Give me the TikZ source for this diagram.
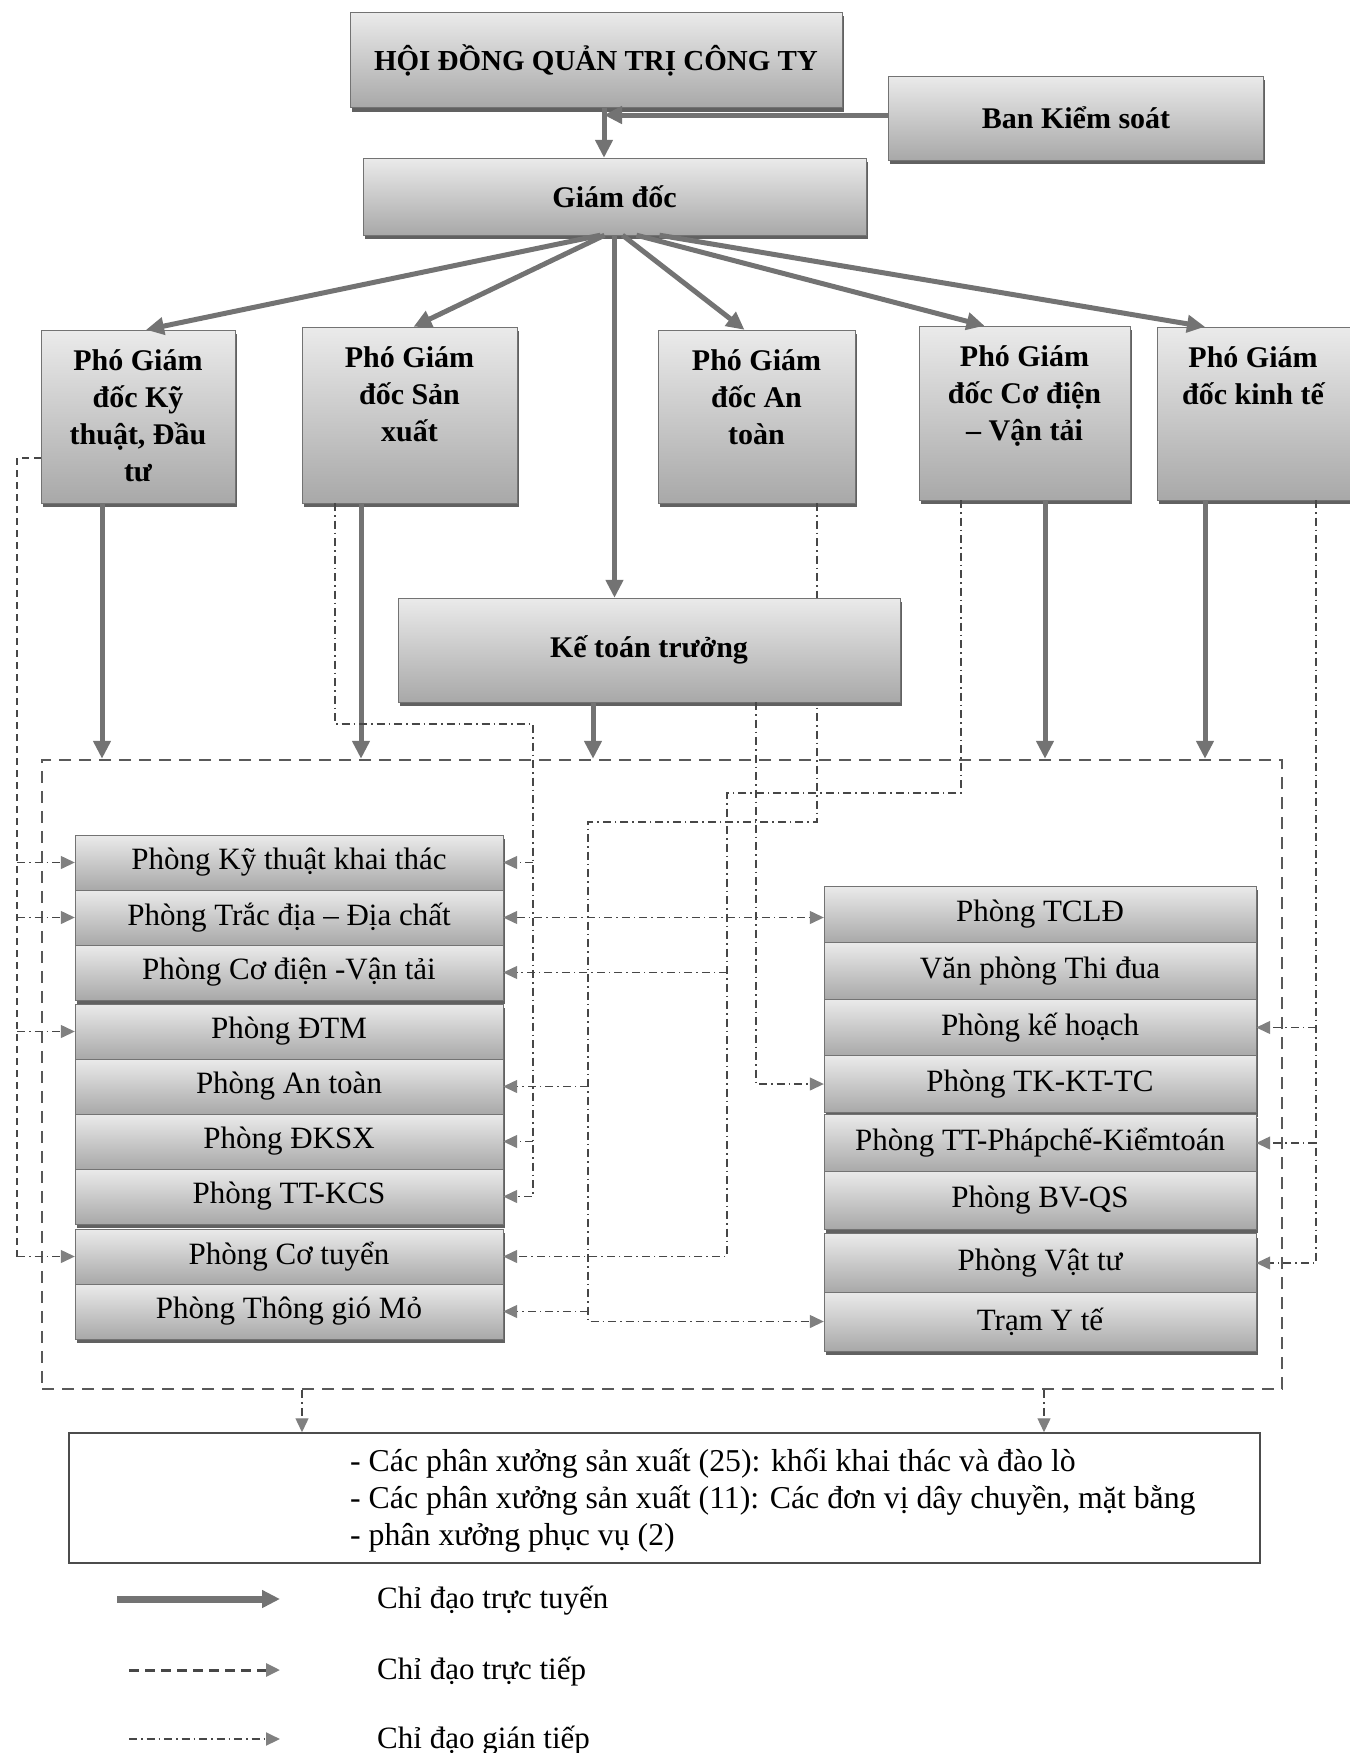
\documentclass[tikz,border=0pt]{standalone}
\usepackage{fontspec}
\setmainfont{Liberation Serif}
\usepackage{tikz}
\usetikzlibrary{calc,arrows.meta,shadows}
\colorlet{col_main}{black!55}
\colorlet{col_line}{black!72}
\colorlet{col_tip}{black!50}
\colorlet{col_box_top}{black!8}
\colorlet{col_box_bottom}{black!34}
\colorlet{col_box_edge}{black!55}
\newcommand{\headfont}{\fontsize{30}{37}\selectfont\bfseries}
\newcommand{\roomfont}{\fontsize{31}{37}\selectfont}
\tikzset{
    box_base/.style={draw=col_box_edge,thin,top color=col_box_top,bottom color=col_box_bottom,inner sep=0pt,
        drop shadow={shadow xshift=1.5pt,shadow yshift=-4pt,fill=black!62,opacity=1}},
    box_head/.style={box_base,font=\headfont,align=center},
    box_room/.style={box_base,font=\roomfont},
    head_text/.style={anchor=north,font=\headfont,align=center,inner sep=0pt},
    legend_text/.style={anchor=west,font=\roomfont,inner sep=0pt},
    group_box/.style={draw=black!65,line width=2.5pt,dash pattern=on 12pt off 8pt,inner sep=0pt},
    line_main/.style={draw=col_main,line width=5pt,-{Triangle[length=18pt,width=17pt]}},
    line_direct/.style={draw=col_line,line width=1.3pt,dash pattern=on 7pt off 5pt},
    line_indirect/.style={draw=col_line,line width=1.3pt,dash pattern=on 8pt off 4pt on 1.5pt off 4pt},
    tip_small/.style={-{Triangle[length=14pt,width=13pt,color=col_tip]}},
    tip_both/.style={{Triangle[length=14pt,width=13pt,color=col_tip]}-{Triangle[length=14pt,width=13pt,color=col_tip]}},
}

\begin{document}
\begin{tikzpicture}[x=1pt,y=-1pt]
  \useasboundingbox (0,0) rectangle (1349,1753);
  % Top boxes
  \node[box_head,minimum width=492pt,minimum height=95pt,font=\fontsize{29}{36}\selectfont\bfseries] (hdqt) at (596,60) {HỘI ĐỒNG QUẢN TRỊ CÔNG TY};
  \node[box_head,minimum width=375pt,minimum height=84pt] (bks) at (1076,118) {Ban Kiểm soát};
  \node[box_head,minimum width=503pt,minimum height=77pt] (gd) at (614.5,196.5) {Giám đốc};
  % Deputy directors
  \node[box_head,minimum width=194pt,minimum height=173pt] (pgd_kt) at (138,416.5) {};
  \node[box_head,minimum width=215pt,minimum height=176pt] (pgd_sx) at (409.5,415) {};
  \node[box_head,minimum width=197pt,minimum height=173pt] (pgd_at) at (756.5,416.5) {};
  \node[box_head,minimum width=211pt,minimum height=174pt] (pgd_cd) at (1024.5,413) {};
  \node[box_head,minimum width=200pt,minimum height=173pt] (pgd_ke) at (1257,413.5) {};
  \node[head_text] (pgd_kt_t) at ($(pgd_kt.north)+(0,20)$) {Phó Giám\\đốc Kỹ\\thuật, Đầu\\tư};
  \node[head_text] (pgd_sx_t) at ($(pgd_sx.north)+(0,20)$) {Phó Giám\\đốc Sản\\xuất};
  \node[head_text] (pgd_at_t) at ($(pgd_at.north)+(0,20)$) {Phó Giám\\đốc An\\toàn};
  \node[head_text] (pgd_cd_t) at ($(pgd_cd.north)+(0,20)$) {Phó Giám\\đốc Cơ điện\\– Vận tải};
  \node[head_text] (pgd_ke_t) at ($(pgd_ke.north)+(-4,20)$) {Phó Giám\\đốc kinh tế};
  % Rooms, left column
  \node[box_room,minimum width=428pt,minimum height=55pt] (p_ktkt) at (289,862.5) {Phòng Kỹ thuật khai thác};
  \node[box_room,minimum width=428pt,minimum height=55pt] (p_tddc) at (289,917.5) {Phòng Trắc địa – Địa chất};
  \node[box_room,minimum width=428pt,minimum height=55pt] (p_cdvt) at (289,972.5) {Phòng Cơ điện -Vận tải};
  \node[box_room,minimum width=428pt,minimum height=55pt] (p_dtm) at (289,1031.5) {Phòng ĐTM};
  \node[box_room,minimum width=428pt,minimum height=55pt] (p_at) at (289,1086.5) {Phòng An toàn};
  \node[box_room,minimum width=428pt,minimum height=55pt] (p_dksx) at (289,1141.5) {Phòng ĐKSX};
  \node[box_room,minimum width=428pt,minimum height=55pt] (p_ttkcs) at (289,1196.5) {Phòng TT-KCS};
  \node[box_room,minimum width=428pt,minimum height=55pt] (p_ct) at (289,1256.5) {Phòng Cơ tuyển};
  \node[box_room,minimum width=428pt,minimum height=55pt] (p_tgm) at (289,1311.5) {Phòng Thông gió Mỏ};
  % Rooms, right column
  \node[box_room,minimum width=432pt,minimum height=57pt] (p_tcld) at (1040,914.5) {Phòng TCLĐ};
  \node[box_room,minimum width=432pt,minimum height=57pt] (p_vptd) at (1040,971) {Văn phòng Thi đua};
  \node[box_room,minimum width=432pt,minimum height=57pt] (p_kh) at (1040,1027.5) {Phòng kế hoạch};
  \node[box_room,minimum width=432pt,minimum height=57pt] (p_tkkttc) at (1040,1084) {Phòng TK-KT-TC};
  \node[box_room,minimum width=432pt,minimum height=58pt] (p_ttpc) at (1040,1143) {Phòng TT-Phápchế-Kiểmtoán};
  \node[box_room,minimum width=432pt,minimum height=58pt] (p_bvqs) at (1040,1200) {Phòng BV-QS};
  \node[box_room,minimum width=432pt,minimum height=59pt] (p_vt) at (1040,1263) {Phòng Vật tư};
  \node[box_room,minimum width=432pt,minimum height=59pt] (p_yte) at (1040,1321.5) {Trạm Y tế};
  % Group frame and workshops
  \node[group_box,minimum width=1240pt,minimum height=629pt] (grp) at (662,1074.5) {};
  \node[draw=black!70,line width=1.5pt,minimum width=1191pt,minimum height=130pt,inner sep=0pt] (pxuong) at (664.5,1498) {};
  \node[anchor=west,align=left,font=\fontsize{31.8}{37}\selectfont,inner sep=0pt] (pxuong_t) at (350,1500) {- Các phân xưởng sản xuất (25): khối khai thác và đào lò\\- Các phân xưởng sản xuất (11): Các đơn vị dây chuyền, mặt bằng\\- phân xưởng phục vụ (2)};
  % Indirect line from PGD An toan (runs behind Ke toan truong)
  \coordinate (at_out) at ($(pgd_at.south)+(60.5,0)$);
  \coordinate (at_bus) at (588,822);
  \draw[line_indirect,tip_small] (at_out) |- (at_bus) |- (p_yte.west);
  \draw[line_indirect,tip_small] (at_bus |- p_at.east) -- (p_at.east);
  \draw[line_indirect,tip_small] (at_bus |- p_tgm.east) -- (p_tgm.east);
  \node[box_head,minimum width=502pt,minimum height=104pt] (ktt) at (649,650) {Kế toán trưởng};
  % Main lines
  \draw[line_main] ($(hdqt.south)+(8,0)$) coordinate (hd_gd) -- (hd_gd |- gd.north);
  \draw[line_main] (bks.west |- 0,115) -- (hd_gd |- 0,115);
  \draw[line_main] ($(gd.south)+(-14,0)$) -- ($(pgd_kt.north)+(8,0)$);
  \draw[line_main] ($(gd.south)+(-10,0)$) -- ($(pgd_sx.north)+(4,0)$);
  \draw[line_main] ($(gd.south)+(8,0)$) -- ($(pgd_at.north)+(-12,0)$);
  \draw[line_main] ($(gd.south)+(22,0)$) -- ($(pgd_cd.north)+(-40,0)$);
  \draw[line_main] ($(gd.south)+(45,0)$) -- ($(pgd_ke.north)+(-52,0)$);
  \draw[line_main] (gd.south) -- (gd.south |- ktt.north);
  \coordinate (kt_down) at ($(pgd_kt.south)+(-36,0)$);
  \coordinate (sx_down) at ($(pgd_sx.south)+(-48.5,0)$);
  \coordinate (ktt_down) at ($(ktt.south)+(-56,0)$);
  \coordinate (cd_down) at ($(pgd_cd.south)+(20.5,0)$);
  \coordinate (ke_down) at ($(pgd_ke.south)+(-52,0)$);
  \draw[line_main] (kt_down) -- (kt_down |- grp.north);
  \draw[line_main] (sx_down) -- (sx_down |- grp.north);
  \draw[line_main] (ktt_down) -- (ktt_down |- grp.north);
  \draw[line_main] (cd_down) -- (cd_down |- grp.north);
  \draw[line_main] (ke_down) -- (ke_down |- grp.north);
  % Direct line from PGD Ky thuat
  \coordinate (kt_bus) at (17,458);
  \draw[line_direct] (pgd_kt.west |- kt_bus) -- (kt_bus) -- (kt_bus |- p_ct.west);
  \draw[line_indirect,tip_small] (kt_bus |- p_ktkt.west) -- (p_ktkt.west);
  \draw[line_indirect,tip_small] (kt_bus |- p_tddc.west) -- (p_tddc.west);
  \draw[line_indirect,tip_small] (kt_bus |- p_dtm.west) -- (p_dtm.west);
  \draw[line_indirect,tip_small] (kt_bus |- p_ct.west) -- (p_ct.west);
  % Indirect line from PGD San xuat
  \coordinate (sx_out) at ($(pgd_sx.south)+(-74.5,0)$);
  \coordinate (sx_bus) at (533,724);
  \draw[line_indirect,tip_small] (sx_out) |- (sx_bus) |- (p_ttkcs.east);
  \draw[line_indirect,tip_small] (sx_bus |- p_ktkt.east) -- (p_ktkt.east);
  \draw[line_indirect,tip_small] (sx_bus |- p_dksx.east) -- (p_dksx.east);
  % Indirect line from PGD Co dien
  \coordinate (cd_out) at ($(pgd_cd.south)+(-63.5,0)$);
  \coordinate (cd_bus) at (727,793);
  \draw[line_indirect,tip_small] (cd_out) |- (cd_bus) |- (p_ct.east);
  \draw[line_indirect,tip_small] (cd_bus |- p_cdvt.east) -- (p_cdvt.east);
  % Indirect line from Ke toan truong
  \coordinate (ktt_out) at ($(ktt.south)+(107,0)$);
  \draw[line_indirect,tip_small] (ktt_out) |- (p_tkkttc.west);
  \draw[line_indirect,tip_both] (p_tddc.east) -- (p_tddc.east -| p_tcld.west);
  % Indirect line from PGD kinh te
  \coordinate (ke_out) at ($(pgd_ke.south)+(59,0)$);
  \draw[line_indirect,tip_small] (ke_out) |- (p_vt.east);
  \draw[line_indirect,tip_small] (ke_out |- p_kh.east) -- (p_kh.east);
  \draw[line_indirect,tip_small] (ke_out |- p_ttpc.east) -- (p_ttpc.east);
  % Down to workshops
  \coordinate (grp_dn1) at ($(grp.south)+(-360,0)$);
  \coordinate (grp_dn2) at ($(grp.south)+(382,0)$);
  \draw[line_indirect,tip_small] (grp_dn1) -- (grp_dn1 |- pxuong.north);
  \draw[line_indirect,tip_small] (grp_dn2) -- (grp_dn2 |- pxuong.north);
  % Legend
  \coordinate (lg_main_a) at (117,1599);
  \coordinate (lg_main_b) at (280,1599);
  \coordinate (lg_dir_a) at (129,1670);
  \coordinate (lg_dir_b) at (280,1670);
  \coordinate (lg_ind_a) at (129,1739);
  \coordinate (lg_ind_b) at (280,1739);
  \draw[line_main,line width=7pt] (lg_main_a) -- (lg_main_b);
  \draw[line_direct,line width=3pt,dash pattern=on 10pt off 6pt,tip_small] (lg_dir_a) -- (lg_dir_b);
  \draw[line_indirect,line width=2pt,tip_small] (lg_ind_a) -- (lg_ind_b);
  \node[legend_text] (lg_main_t) at (377,1601) {Chỉ đạo trực tuyến};
  \node[legend_text] (lg_dir_t) at (377,1672) {Chỉ đạo trực tiếp};
  \node[legend_text] (lg_ind_t) at (377,1741) {Chỉ đạo gián tiếp};
\end{tikzpicture}
\end{document}
